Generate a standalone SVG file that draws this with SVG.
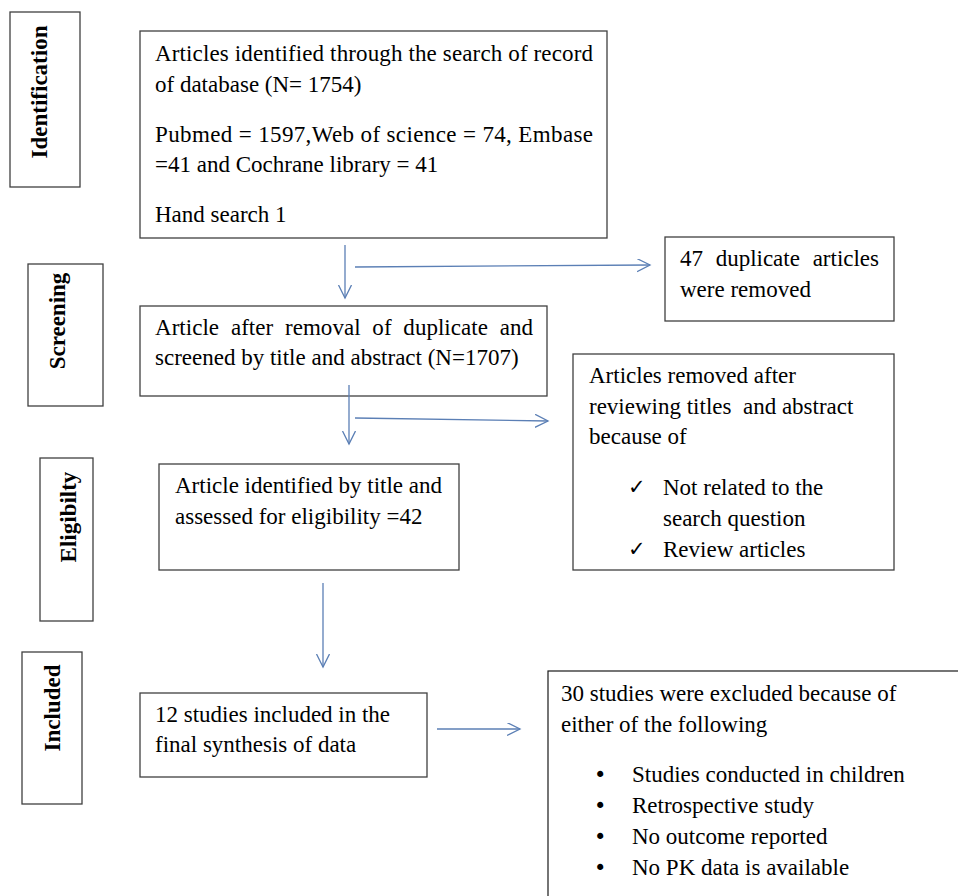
<svg xmlns="http://www.w3.org/2000/svg" width="958" height="896" viewBox="0 0 958 896">
<style>
.box{fill:#fff;stroke:#404040;stroke-width:1.3}
.t{font-family:"Liberation Serif","Times New Roman",serif;font-size:23px;fill:#000}
.lab{font-family:"Liberation Serif","Times New Roman",serif;font-size:23px;font-weight:bold;fill:#000;text-anchor:middle}
.ck{font-family:"DejaVu Sans",sans-serif;font-size:21px;fill:#000}
.bu{font-family:"DejaVu Sans",sans-serif;font-size:21px;fill:#000}
.cn{stroke:#5b7fb5;stroke-width:1.3;fill:none}
</style>
<defs>
<marker id="ah" markerUnits="userSpaceOnUse" markerWidth="16" markerHeight="16" refX="13" refY="6.5" orient="auto">
<path d="M0,0 L13,6.5 L0,13" fill="none" stroke="#5b7fb5" stroke-width="1.3"/>
</marker>
</defs>
<rect width="958" height="896" fill="#fff"/>

<g id="stage-identification">
<rect class="box" x="10" y="12" width="70" height="175"/>
<text class="lab" transform="translate(47,92) rotate(-90)">Identification</text>
</g>
<g id="stage-screening">
<rect class="box" x="28" y="264" width="75" height="142"/>
<text class="lab" transform="translate(65,321) rotate(-90)">Screening</text>
</g>
<g id="stage-eligibility">
<rect class="box" x="40" y="458" width="53" height="163"/>
<text class="lab" transform="translate(76,517) rotate(-90)">Eligibilty</text>
</g>
<g id="stage-included">
<rect class="box" x="22" y="652" width="60" height="152"/>
<text class="lab" transform="translate(59.5,708) rotate(-90)">Included</text>
</g>

<g id="identified">
<rect class="box" x="140" y="31" width="467" height="207"/>
<text class="t" x="155" y="61" textLength="438" lengthAdjust="spacing">Articles identified through the search of record</text>
<text class="t" x="155" y="92">of database (N= 1754)</text>
<text class="t" x="155" y="142" textLength="438" lengthAdjust="spacing">Pubmed = 1597,Web of science = 74, Embase</text>
<text class="t" x="155" y="172">=41 and Cochrane library = 41</text>
<text class="t" x="155" y="222">Hand search 1</text>
</g>

<g id="duplicates">
<rect class="box" x="665" y="237" width="229" height="84"/>
<text class="t" x="680" y="266" style="word-spacing:7px" textLength="199" lengthAdjust="spacing">47 duplicate articles</text>
<text class="t" x="680" y="297">were removed</text>
</g>

<g id="screened">
<rect class="box" x="140" y="306" width="407" height="90"/>
<text class="t" x="155" y="335" style="word-spacing:6px" textLength="378" lengthAdjust="spacing">Article after removal of duplicate and</text>
<text class="t" x="155" y="365">screened by title and abstract (N=1707)</text>
</g>

<g id="removed">
<rect class="box" x="573" y="354" width="321" height="216"/>
<text class="t" x="589" y="383">Articles removed after</text>
<text class="t" x="589" y="414" xml:space="preserve">reviewing titles  and abstract</text>
<text class="t" x="589" y="444">because of</text>
<text class="ck" x="628" y="494">✓</text>
<text class="t" x="663" y="495">Not related to the</text>
<text class="t" x="663" y="526">search question</text>
<text class="ck" x="628" y="556">✓</text>
<text class="t" x="663" y="557">Review articles</text>
</g>

<g id="eligible">
<rect class="box" x="159" y="464" width="300" height="106"/>
<text class="t" x="175" y="493">Article identified by title and</text>
<text class="t" x="175" y="524">assessed for eligibility =42</text>
</g>

<g id="included">
<rect class="box" x="140" y="693" width="287" height="84"/>
<text class="t" x="155" y="722">12 studies included in the</text>
<text class="t" x="155" y="752">final synthesis of data</text>
</g>

<g id="excluded">
<rect x="548" y="671" width="430" height="240" fill="#fff" stroke="#1a1a1a" stroke-width="1.2"/>
<text class="t" x="561" y="701">30 studies were excluded because of</text>
<text class="t" x="561" y="732">either of the following</text>
<text class="bu" x="594" y="782">•</text>
<text class="t" x="632" y="782">Studies conducted in children</text>
<text class="bu" x="594" y="813">•</text>
<text class="t" x="632" y="813">Retrospective study</text>
<text class="bu" x="594" y="844">•</text>
<text class="t" x="632" y="844">No outcome reported</text>
<text class="bu" x="594" y="875">•</text>
<text class="t" x="632" y="875">No PK data is available</text>
</g>

<g id="connectors">
<line class="cn" x1="345" y1="245" x2="345" y2="298" marker-end="url(#ah)"/>
<line class="cn" x1="355" y1="267" x2="650" y2="265" marker-end="url(#ah)"/>
<line class="cn" x1="349" y1="385" x2="349" y2="444" marker-end="url(#ah)"/>
<line class="cn" x1="355" y1="418" x2="548" y2="421" marker-end="url(#ah)"/>
<line class="cn" x1="323" y1="583" x2="323" y2="667" marker-end="url(#ah)"/>
<line class="cn" x1="437" y1="729" x2="520" y2="729" marker-end="url(#ah)"/>
</g>
</svg>
